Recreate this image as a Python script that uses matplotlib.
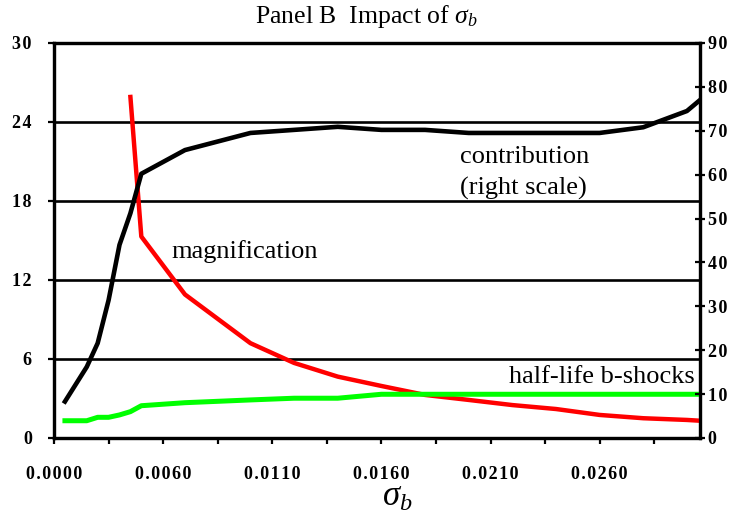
import matplotlib
matplotlib.use('Agg')
import matplotlib.pyplot as plt

plt.rcParams['font.family'] = 'Liberation Serif'
plt.rcParams['mathtext.fontset'] = 'custom'
plt.rcParams['mathtext.rm'] = 'Liberation Serif'
plt.rcParams['mathtext.it'] = 'Liberation Serif:italic'

# contribution (right scale)
sigma_contrib = [0.0015, 0.0025, 0.003, 0.0035, 0.004, 0.0045, 0.005, 0.007, 0.010,
                 0.014, 0.016, 0.018, 0.020, 0.022, 0.024, 0.026, 0.028, 0.030, 0.0306]
contribution = [8.3, 16.2, 21.6, 31.4, 44.0, 51.2, 60.2, 65.6, 69.5,
                70.9, 70.2, 70.2, 69.5, 69.5, 69.5, 69.5, 70.8, 74.5, 77.0]

# magnification (left scale)
sigma_magn = [0.0045, 0.005, 0.007, 0.010, 0.012, 0.014, 0.016, 0.018, 0.020,
              0.022, 0.024, 0.026, 0.028, 0.030, 0.0306]
magnification = [25.9, 15.3, 10.9, 7.2, 5.7, 4.66, 3.95, 3.27, 2.89,
                 2.5, 2.2, 1.75, 1.5, 1.37, 1.31]

# half-life b-shocks (left scale)
sigma_half = [0.0015, 0.0025, 0.003, 0.0035, 0.004, 0.0045, 0.005, 0.007, 0.010,
              0.012, 0.014, 0.016, 0.018, 0.020, 0.024, 0.028, 0.0306]
half_life = [1.31, 1.31, 1.57, 1.57, 1.75, 2.0, 2.45, 2.68, 2.89,
             3.02, 3.02, 3.32, 3.32, 3.32, 3.32, 3.32, 3.32]

x_ticks = [0.001, 0.0035, 0.006, 0.0085, 0.011, 0.0135, 0.016, 0.0185,
           0.021, 0.0235, 0.026, 0.0285]
x_labels = ['0.0000', '', '0.0060', '', '0.0110', '', '0.0160', '',
            '0.0210', '', '0.0260', '']
left_ticks = [0, 6, 12, 18, 24, 30]
right_ticks = [0, 10, 20, 30, 40, 50, 60, 70, 80, 90]


def spaced(s):
    # Excel-style letter spaced tick labels
    return '\u200a'.join(str(s))


fig = plt.figure(figsize=(7.33, 5.16), dpi=100)
ax = fig.add_axes([0.0737, 0.1512, 0.8813, 0.7655])
ax2 = ax.twinx()

ax.set_xlim(0.001, 0.0306)
ax.set_ylim(0, 30)
ax2.set_ylim(0, 90)

for y in left_ticks[1:-1]:
    ax.axhline(y, color='black', lw=1.9, zorder=1)

ax.plot(sigma_magn, magnification, color='#ff0000', lw=3.2, zorder=3)
ax.plot(sigma_half, half_life, color='#00ff00', lw=3.6, zorder=4)
ax2.plot(sigma_contrib, contribution, color='black', lw=3.3, zorder=3)

for a in (ax, ax2):
    for sp in a.spines.values():
        sp.set_linewidth(2.3)

ax.set_xticks(x_ticks)
ax.set_xticklabels([spaced(l) for l in x_labels], fontsize=13, fontweight='bold')
ax.tick_params(axis='x', direction='out', length=4, width=1.6, pad=16)
ax.set_yticks(left_ticks)
ax.set_yticklabels([spaced(v) for v in left_ticks], fontsize=13, fontweight='bold')
ax.tick_params(axis='y', direction='out', length=4, width=1.6, pad=12)
ax2.set_yticks(right_ticks)
ax2.set_yticklabels([spaced(v) for v in right_ticks], fontsize=13, fontweight='bold')
ax2.tick_params(axis='y', direction='inout', length=7, width=1.6, pad=2)

ax.text(0.0064, 13.67, 'magnification', fontsize=19)
ax.text(0.0196, 20.9, 'contribution', fontsize=19)
ax.text(0.0196, 18.5, '(right scale)', fontsize=19)
ax.text(0.03034, 4.15, 'half-life b-shocks', fontsize=19, ha='right')

fig.text(0.5, 0.955, r'Panel B  Impact of $\sigma_b$', fontsize=18.5, ha='center')
fig.text(0.542, 0.02, r'$\sigma_b$', fontsize=25, ha='center')

fig.savefig('out.png', dpi=100)
